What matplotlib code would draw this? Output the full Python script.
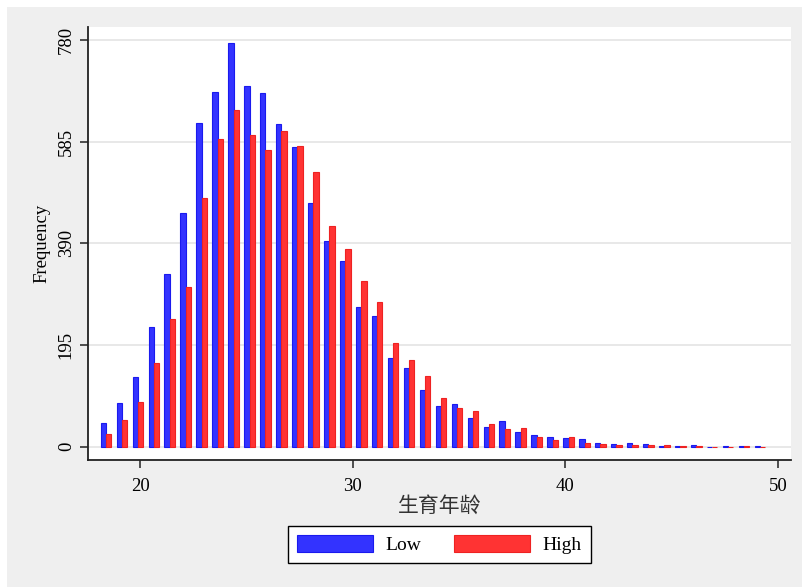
import numpy as np
import matplotlib
matplotlib.use("Agg")
import matplotlib.pyplot as plt
from matplotlib.patches import Rectangle

plt.rcParams['font.family'] = ['Liberation Serif', 'Noto Sans CJK SC']

# Histogram bins of 生育年龄 (bin width 0.75 years)
age_min = 18.025
bin_width = 0.75

low = [45, 83, 134, 229, 331, 448, 620, 680, 775, 692,
       679, 619, 575, 467, 394, 357, 268, 251, 170, 150,
       109, 79, 81, 56, 37, 49, 28, 22, 19, 16,
       14, 7, 5, 8, 5, 1, 1, 3, 0, 2,
       1, 1]
high = [24, 51, 86, 160, 245, 306, 477, 590, 646, 597,
        569, 606, 577, 527, 423, 380, 318, 278, 198, 166,
        135, 93, 74, 68, 43, 33, 35, 19, 13, 18,
        8, 6, 4, 3, 3, 3, 2, 1, 0, 0,
        1, 0]

y_ticks = [0, 195, 390, 585, 780]
x_ticks = [20, 30, 40, 50]
series_names = ['Low', 'High']

centers = age_min + bin_width * (np.arange(len(low)) + 0.5)
w = bin_width / 3

fig = plt.figure(figsize=(8.03, 5.87), dpi=100)
fig.patch.set_facecolor('white')
# fond gris type Stata
fig.patches.append(Rectangle((7 / 803, 0), 1, 1 - 7 / 587, transform=fig.transFigure,
                             facecolor='#efefef', edgecolor='none', zorder=-10))

ax = fig.add_axes([88 / 803, 1 - 460 / 587, (791 - 88) / 803, (460 - 27) / 587])
ax.set_facecolor('white')

ax.bar(centers - w / 2, low, width=w, color='#3333ff', edgecolor='#1a1aee',
       linewidth=0.8, label=series_names[0], zorder=3)
ax.bar(centers + w / 2, high, width=w, color='#ff3333', edgecolor='#ee2222',
       linewidth=0.8, label=series_names[1], zorder=3)

ax.set_xlim(17.555, 50.607)
ax.set_ylim(-25.5, 805)
ax.set_yticks(y_ticks)
ax.set_xticks(x_ticks)
ax.set_yticklabels([str(v) for v in y_ticks], rotation=90, va='center')
ax.tick_params(axis='both', direction='out', length=6, width=1.1, color='#222222',
               labelsize=13.5)
ax.tick_params(axis='y', pad=3.5)
ax.tick_params(axis='x', pad=7)

ax.yaxis.grid(True, color='#e6e6e6', linewidth=1.3, zorder=0)
ax.set_axisbelow(True)

for side in ['top', 'right']:
    ax.spines[side].set_visible(False)
for side in ['left', 'bottom']:
    ax.spines[side].set_color('#222222')
    ax.spines[side].set_linewidth(1.3)

ax.set_ylabel('Frequency', fontsize=13.5)
ax.yaxis.set_label_coords(-0.054, 0.5)
ax.set_xlabel('生育年龄', fontsize=15, family=['Noto Sans CJK SC'], color='#333333', labelpad=0)

leg = fig.legend(loc='center', bbox_to_anchor=(439.4 / 803, 1 - 544.3 / 587), ncol=2,
                 fontsize=14, frameon=True, fancybox=False, edgecolor='black',
                 framealpha=1, handlelength=3.9, handleheight=1.0,
                 handletextpad=0.67, columnspacing=1.65, borderpad=0.45)
leg.get_frame().set_linewidth(1.0)

fig.savefig('out.png', dpi=100, facecolor=fig.get_facecolor())
